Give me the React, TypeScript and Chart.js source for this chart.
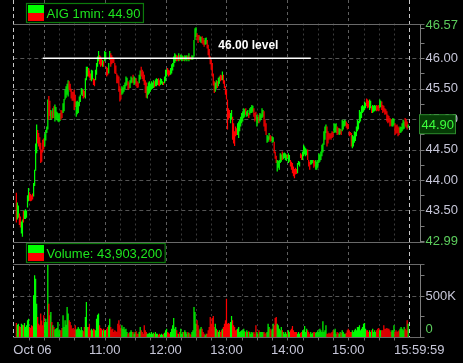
import React, { useEffect, useRef } from "react";
import { Chart, registerables } from "chart.js";

Chart.register(...registerables);

// ---------------- data ----------------
const SYMBOL_LABEL = "AIG 1min";
const LAST_PRICE = 44.9;
const TOTAL_VOLUME = 43903200;
const SESSION_MINUTES = 390; // 09:30 -> 16:00
const FIRST_BAR_MINUTE = 3;

// one bar per minute, starting at FIRST_BAR_MINUTE
const lows: number[] = [
  43.30, 43.35, 43.38, 43.26, 43.22, 43.12, 43.07,
  43.30, 43.36, 43.36, 43.38, 43.55, 43.65, 43.66, 43.65, 43.66, 43.68,
  43.73, 43.90, 44.15, 44.44, 44.60, 44.55, 44.50, 44.28, 44.30, 44.45,
  44.50, 44.55, 44.65, 44.77, 44.83, 44.99, 45.05, 44.99, 45.00, 45.02,
  45.02, 44.96, 45.00, 44.98, 44.96, 44.95, 44.97, 44.99, 45.02, 45.10,
  45.13, 45.32, 45.35, 45.40, 45.37, 45.48, 45.45, 45.34, 45.30, 45.30,
  45.15, 45.20, 45.04, 45.08, 45.10, 45.21, 45.28, 45.40, 45.38, 45.34,
  45.36, 45.34, 45.64, 45.70, 45.70, 45.68, 45.64, 45.62, 45.65, 45.56,
  45.54, 45.64, 45.73, 45.86, 45.95, 45.90, 45.86, 45.88, 45.86, 45.86,
  45.95, 45.97, 45.70, 45.72, 45.75, 45.97, 45.86, 45.90, 45.92, 45.92,
  45.75, 45.74, 45.59, 45.59, 45.45, 45.29, 45.32, 45.40, 45.42, 45.45,
  45.48, 45.54, 45.56, 45.48, 45.50, 45.51, 45.59, 45.60, 45.59, 45.56,
  45.58, 45.54, 45.51, 45.52, 45.59, 45.65, 45.70, 45.66, 45.62, 45.56,
  45.43, 45.35, 45.34, 45.40, 45.42, 45.45, 45.48, 45.50, 45.51, 45.52,
  45.54, 45.54, 45.56, 45.55, 45.54, 45.56, 45.58, 45.56, 45.56, 45.59,
  45.62, 45.70, 45.73, 45.70, 45.72, 45.73, 45.75, 45.80, 45.86, 45.92,
  45.95, 45.95, 45.96, 45.95, 45.96, 45.97, 45.95, 45.96, 45.96, 45.95,
  45.97, 45.95, 45.97, 45.95, 45.97, 45.98, 45.97, 45.98, 46.03, 46.30,
  46.35, 46.30, 46.25, 46.30, 46.27, 46.25, 46.24, 46.22, 46.19, 46.22,
  46.23, 46.16, 46.05, 46.00, 45.90, 45.81, 45.70, 45.55, 45.43, 45.45,
  45.50, 45.51, 45.54, 45.58, 45.62, 45.64, 45.64, 45.58, 45.51, 45.40,
  45.32, 44.83, 44.99, 45.02, 44.93, 45.00, 44.66, 44.60, 44.56, 44.72,
  44.74, 44.74, 44.69, 44.80, 44.88, 44.93, 44.96, 45.02, 45.04, 45.07,
  45.04, 45.05, 45.02, 45.07, 45.10, 45.10, 45.12, 45.04, 44.96, 44.99,
  44.88, 44.93, 44.93, 44.96, 44.99, 45.02, 45.04, 44.88, 44.80, 44.74,
  44.61, 44.63, 44.66, 44.63, 44.64, 44.61, 44.62, 44.44, 44.35, 44.28,
  44.14, 44.20, 44.17, 44.28, 44.30, 44.33, 44.34, 44.36, 44.33, 44.31,
  44.36, 44.28, 44.30, 44.22, 44.17, 44.11, 44.06, 44.03, 44.09, 44.10,
  44.11, 44.25, 44.22, 44.36, 44.33, 44.33, 44.39, 44.42, 44.39, 44.41,
  44.33, 44.22, 44.17, 44.25, 44.26, 44.28, 44.20, 44.22, 44.17, 44.17,
  44.20, 44.28, 44.30, 44.33, 44.39, 44.45, 44.58, 44.66, 44.77, 44.55,
  44.60, 44.66, 44.68, 44.66, 44.69, 44.70, 44.77, 44.79, 44.77, 44.74,
  44.75, 44.74, 44.75, 44.74, 44.80, 44.83, 44.88, 44.89, 44.86, 44.83,
  44.84, 44.72, 44.74, 44.55, 44.52, 44.55, 44.61, 44.64, 44.72, 44.80,
  44.83, 44.93, 44.96, 45.02, 45.10, 45.12, 45.15, 45.18, 45.21, 45.18,
  45.19, 45.15, 45.18, 45.10, 45.10, 45.12, 45.13, 45.14, 45.13, 45.14,
  45.13, 45.18, 45.20, 45.15, 45.10, 45.12, 45.07, 45.08, 44.96, 44.93,
  44.95, 44.88, 44.89, 44.88, 44.88, 44.90, 44.74, 44.76, 44.77, 44.72,
  44.74, 44.77, 44.78, 44.80, 44.83, 44.84, 44.88, 44.86, 44.83, 44.86,
];

const highs: number[] = [
  43.79, 43.63, 43.58, 43.45, 43.40, 43.32, 43.35,
  43.49, 43.50, 43.52, 43.50, 43.75, 43.87, 43.80, 43.77, 43.75, 43.78,
  43.95, 44.17, 44.60, 44.91, 44.82, 44.77, 44.70, 44.61, 44.50, 44.66,
  44.68, 44.75, 44.82, 44.88, 45.32, 45.38, 45.30, 45.15, 45.13, 45.18,
  45.21, 45.24, 45.20, 45.12, 45.10, 45.08, 45.10, 45.15, 45.14, 45.26,
  45.33, 45.48, 45.54, 45.58, 45.64, 45.62, 45.58, 45.50, 45.45, 45.45,
  45.48, 45.40, 45.29, 45.30, 45.28, 45.37, 45.40, 45.51, 45.50, 45.48,
  45.46, 45.67, 45.86, 45.86, 45.84, 45.80, 45.75, 45.81, 45.80, 45.67,
  45.66, 45.81, 45.92, 46.03, 46.12, 46.05, 46.03, 46.00, 45.97, 45.95,
  46.12, 46.10, 45.86, 45.84, 45.92, 46.12, 46.08, 46.05, 46.02, 46.00,
  45.92, 45.88, 45.75, 45.72, 45.70, 45.54, 45.50, 45.54, 45.52, 45.56,
  45.60, 45.70, 45.68, 45.62, 45.60, 45.64, 45.70, 45.68, 45.73, 45.70,
  45.68, 45.67, 45.62, 45.60, 45.73, 45.80, 45.86, 45.81, 45.78, 45.73,
  45.64, 45.60, 45.54, 45.60, 45.62, 45.58, 45.62, 45.60, 45.64, 45.62,
  45.65, 45.67, 45.66, 45.67, 45.64, 45.67, 45.66, 45.62, 45.61, 45.70,
  45.81, 45.82, 45.84, 45.81, 45.80, 45.84, 45.90, 45.92, 46.03, 46.08,
  46.06, 46.05, 46.04, 46.08, 46.05, 46.06, 46.05, 46.04, 46.03, 46.05,
  46.04, 46.05, 46.04, 46.08, 46.03, 46.02, 46.05, 46.04, 46.30, 46.49,
  46.51, 46.41, 46.38, 46.38, 46.36, 46.35, 46.36, 46.33, 46.30, 46.33,
  46.34, 46.30, 46.22, 46.15, 46.03, 45.97, 45.92, 45.75, 45.62, 45.60,
  45.64, 45.62, 45.68, 45.70, 45.73, 45.72, 45.78, 45.73, 45.64, 45.54,
  45.48, 45.32, 45.18, 45.15, 45.10, 45.15, 45.04, 44.93, 44.80, 44.88,
  44.85, 44.93, 44.96, 44.99, 45.04, 45.10, 45.13, 45.18, 45.16, 45.18,
  45.13, 45.15, 45.10, 45.18, 45.20, 45.23, 45.22, 45.18, 45.10, 45.12,
  45.07, 45.04, 45.07, 45.10, 45.08, 45.18, 45.15, 45.13, 44.99, 44.93,
  44.74, 44.72, 44.77, 44.74, 44.72, 44.72, 44.70, 44.63, 44.47, 44.40,
  44.33, 44.31, 44.33, 44.44, 44.42, 44.47, 44.44, 44.45, 44.44, 44.42,
  44.42, 44.44, 44.41, 44.33, 44.30, 44.28, 44.22, 44.18, 44.20, 44.18,
  44.28, 44.31, 44.30, 44.44, 44.42, 44.47, 44.58, 44.55, 44.52, 44.50,
  44.50, 44.33, 44.30, 44.33, 44.33, 44.33, 44.33, 44.31, 44.33, 44.30,
  44.33, 44.44, 44.42, 44.47, 44.58, 44.60, 44.80, 44.88, 44.91, 44.88,
  44.80, 44.77, 44.76, 44.77, 44.80, 44.79, 44.93, 44.92, 44.93, 44.88,
  44.86, 44.85, 44.84, 44.83, 44.99, 44.97, 44.99, 44.98, 44.96, 44.93,
  44.92, 44.80, 44.79, 44.77, 44.74, 44.72, 44.80, 44.79, 44.88, 44.99,
  44.97, 45.15, 45.12, 45.21, 45.23, 45.21, 45.29, 45.27, 45.34, 45.32,
  45.30, 45.32, 45.30, 45.21, 45.23, 45.22, 45.23, 45.22, 45.23, 45.22,
  45.23, 45.32, 45.30, 45.29, 45.23, 45.22, 45.18, 45.16, 45.13, 45.07,
  45.05, 45.02, 45.00, 44.99, 45.02, 45.00, 44.93, 44.90, 44.91, 44.88,
  44.86, 44.88, 44.87, 44.93, 44.99, 44.96, 45.02, 45.00, 44.96, 44.91,
];

// u = closed up (green), d = closed down (red)
const directions: string = [
  "duudduu",
  "duuuuudddd", "uuuudddddd", "duuuuddudu", "duuuuuuddu", "uuuuuddddd",
  "dduuuuuuud", "duuuddduud", "duuuudddud", "uudduudddd", "ddddddduuu",
  "uuudduuudu", "uddduudddd", "dduuuuuuud", "uuudduuudu", "uuddduuuuu",
  "udduduuudu", "uududduuuu", "uddduudddu", "uddddddddu", "uduudduddd",
  "dddduudddd", "duuuuuuuud", "uuduuuuddd", "uuduuuuddd", "uuudduuddd",
  "uuuuuduuuu", "duuddddddd", "uuudduuuuu", "ddduuudduu", "uuuuuuuuud",
  "dddddduuud", "duuduuuudd", "dddduuuuuu", "uuuuuuuudd", "duuduuuudd",
  "duuddddddd", "ddduuudddd", "duuuuudddu",
].join("");

// volume per minute, thousands of shares
const volumesK: number[] = [
  171, 150, 163, 130, 122, 163, 150,
  142, 171, 122, 142, 203, 224, 122, 110, 142, 130,
  508, 752, 711, 406, 244, 163, 142, 285, 200, 142,
  264, 183, 224, 183, 890, 406, 264, 305, 183, 142,
  122, 90, 102, 110, 183, 81, 81, 81, 110, 264,
  122, 203, 150, 366, 285, 203, 183, 142, 102, 110,
  81, 142, 90, 102, 122, 102, 81, 122, 81, 70,
  122, 244, 427, 122, 122, 163, 81, 102, 81, 102,
  90, 81, 224, 272, 285, 142, 110, 102, 81, 102,
  81, 81, 102, 122, 142, 224, 122, 90, 102, 61,
  81, 70, 61, 163, 203, 142, 110, 142, 102, 122,
  90, 102, 61, 41, 53, 61, 81, 61, 61, 41,
  61, 69, 41, 41, 61, 122, 81, 61, 41, 142,
  81, 61, 41, 41, 53, 41, 61, 41, 53, 41,
  61, 41, 41, 28, 41, 28, 41, 28, 41, 53,
  81, 102, 61, 53, 41, 61, 102, 142, 232, 102,
  122, 81, 41, 41, 61, 102, 41, 61, 61, 81,
  61, 41, 61, 53, 41, 28, 61, 81, 366, 305,
  163, 203, 142, 81, 102, 122, 102, 61, 41, 20,
  41, 41, 81, 122, 244, 163, 232, 256, 122, 163,
  102, 81, 61, 81, 61, 81, 102, 122, 163, 203,
  467, 163, 171, 163, 183, 256, 203, 142, 122, 81,
  90, 102, 122, 61, 70, 81, 81, 102, 70, 61,
  81, 61, 70, 61, 41, 61, 53, 61, 41, 142,
  61, 41, 81, 61, 61, 61, 61, 61, 41, 53,
  61, 163, 122, 102, 81, 102, 163, 142, 232, 244,
  163, 142, 102, 81, 122, 81, 61, 41, 61, 41,
  61, 81, 61, 81, 102, 134, 81, 61, 61, 61,
  41, 61, 41, 53, 61, 81, 81, 134, 61, 102,
  81, 61, 41, 61, 41, 53, 61, 61, 53, 61,
  81, 61, 102, 81, 61, 191, 61, 81, 142, 41,
  41, 53, 41, 53, 61, 81, 81, 102, 41, 61,
  53, 41, 61, 53, 81, 61, 41, 41, 53, 81,
  102, 81, 61, 61, 81, 61, 81, 102, 81, 122,
  122, 142, 81, 102, 122, 163, 171, 102, 81, 81,
  61, 81, 61, 81, 102, 61, 81, 61, 81, 102,
  110, 81, 81, 81, 81, 142, 102, 102, 110, 102,
  102, 81, 61, 81, 81, 142, 61, 81, 61, 70,
  81, 102, 122, 102, 81, 122, 102, 81, 203, 163,
];

const priceAxisMin = 42.99;
const priceAxisMax = 46.57;
const priceGridValues = [43.5, 44.0, 44.5, 45.0, 45.5, 46.0];
const priceLabelValues = [42.99, 43.5, 44.0, 44.5, 45.0, 45.5, 46.0, 46.57];
const priceLabelTexts = ["42.99", "43.50", "44.00", "44.50", "45.00", "45.50", "46.00", "46.57"];
const priceTickValues = [43.0, 43.25, 43.5, 43.75, 44.0, 44.25, 44.5, 44.75, 45.0, 45.25, 45.5, 45.75, 46.0, 46.25, 46.5];
const volumePanelMax = 890000;
const volumeLabelValues = [0, 500000];
const volumeLabelTexts = ["0", "500K"];
const timeTickMinutes = [0, 90, 150, 210, 270, 330, 390];
const timeTickLabels = ["Oct 06", "11:00", "12:00", "13:00", "14:00", "15:00", "15:59:59"];
const hourLineMinutes = [30, 90, 150, 210, 270, 330];
const levelPrice = 46.0;
const levelStartMinute = 29;
const levelEndMinute = 293;
const levelText = "46.00 level";
const levelTextMinute = 202;
const levelTextPrice = 46.21;

// ---------------- layout (pixels) ----------------
const W = 463;
const H = 363;
const PLOT_LEFT = 13.3;
const PLOT_RIGHT = 409.2;
const PRICE_TOP = 23.5;
const PRICE_BOTTOM = 241.5;
const VOL_TOP = 264;
const VOL_BOTTOM = 337;
const FONT = '"Liberation Sans", Arial, sans-serif';

const UP = "#00ff00";
const DOWN = "#ff0000";
const LABEL_GREY = "#c6c6d8";
const LABEL_GREEN = "#5ccc5c";

const crisp = (v: number) => Math.round(v) + 0.5;

function drawLegend(ctx: CanvasRenderingContext2D, x: number, y: number, text: string) {
  ctx.font = `13px ${FONT}`;
  const tw = ctx.measureText(text).width;
  const w = 20 + tw + 3;
  const h = 19;
  ctx.fillStyle = "#000";
  ctx.fillRect(x, y, w, h);
  ctx.fillStyle = UP;
  ctx.fillRect(x + 1.5, y + 1.5, 16, 8);
  ctx.fillStyle = DOWN;
  ctx.fillRect(x + 1.5, y + 9.5, 16, 8);
  ctx.strokeStyle = "#0c7a0c";
  ctx.lineWidth = 1.2;
  ctx.setLineDash([]);
  ctx.strokeRect(x, y, w, h);
  ctx.fillStyle = "#1ee61e";
  ctx.textAlign = "left";
  ctx.textBaseline = "middle";
  ctx.fillText(text, x + 20, y + h / 2 + 1);
}

const stockPanels = {
  id: "stockPanels",
  beforeDraw(chart: any) {
    const { ctx, width, height } = chart;
    ctx.save();
    ctx.fillStyle = "#000";
    ctx.fillRect(0, 0, width, height);
    ctx.restore();
  },
  beforeDatasetsDraw(chart: any) {
    const { ctx } = chart;
    const xs = chart.scales.x;
    const ys = chart.scales.y;
    const vs = chart.scales.yv;
    const pTop = ys.getPixelForValue(priceAxisMax);
    const pBot = ys.getPixelForValue(priceAxisMin);
    const vTop = vs.getPixelForValue(volumePanelMax);
    const vBot = vs.getPixelForValue(0);
    const left = xs.getPixelForValue(0);
    const right = xs.getPixelForValue(SESSION_MINUTES);
    const axisX = crisp(right + 11);
    ctx.save();
    ctx.lineWidth = 1;
    const line = (x0: number, y0: number, x1: number, y1: number, color: string, dash: number[]) => {
      ctx.strokeStyle = color;
      ctx.setLineDash(dash);
      ctx.beginPath();
      ctx.moveTo(x0, y0);
      ctx.lineTo(x1, y1);
      ctx.stroke();
    };
    for (const v of priceGridValues) {
      const y = crisp(ys.getPixelForValue(v));
      line(left, y, axisX, y, "#555555", [4, 3]);
    }
    {
      const y = crisp(vs.getPixelForValue(500000));
      line(left, y, axisX, y, "#555555", [4, 3]);
    }
    for (let m = 15; m < SESSION_MINUTES; m += 15) {
      const x = crisp(xs.getPixelForValue(m));
      if (hourLineMinutes.includes(m)) {
        line(x, 0, x, vBot, "#5e5e5e", [3, 3]);
      } else {
        line(x, pTop, x, pBot, "#3a3a3a", [2, 3]);
        line(x, vTop, x, vBot, "#3a3a3a", [2, 3]);
      }
    }
    for (const m of [0, SESSION_MINUTES]) {
      const x = crisp(xs.getPixelForValue(m));
      line(x, 0, x, vBot, "#c8c8c8", [4, 3]);
    }
    ctx.restore();
  },
  afterDatasetsDraw(chart: any) {
    const { ctx } = chart;
    const xs = chart.scales.x;
    const ys = chart.scales.y;
    const vs = chart.scales.yv;
    const pTop = crisp(ys.getPixelForValue(priceAxisMax));
    const pBot = crisp(ys.getPixelForValue(priceAxisMin));
    const vTop = crisp(vs.getPixelForValue(volumePanelMax));
    const vBot = crisp(vs.getPixelForValue(0));
    const left = xs.getPixelForValue(0);
    const right = xs.getPixelForValue(SESSION_MINUTES);
    const axisX = crisp(right + 11);
    ctx.save();
    ctx.lineWidth = 1;
    ctx.setLineDash([]);
    const line = (x0: number, y0: number, x1: number, y1: number, color: string) => {
      ctx.strokeStyle = color;
      ctx.beginPath();
      ctx.moveTo(x0, y0);
      ctx.lineTo(x1, y1);
      ctx.stroke();
    };
    for (const y of [pTop, pBot, vTop, vBot]) line(left, y, axisX + 4, y, "#6a6a6a");
    line(axisX, pTop, axisX, pBot, "#7c7c7c");
    line(axisX, vTop, axisX, vBot, "#7c7c7c");
    for (const v of priceTickValues) {
      const y = crisp(ys.getPixelForValue(v));
      line(axisX, y, axisX + 4, y, "#7c7c7c");
    }
    for (const v of [250000, 500000, 750000]) {
      const y = crisp(vs.getPixelForValue(v));
      line(axisX, y, axisX + 4, y, "#7c7c7c");
    }
    for (let m = 15; m < SESSION_MINUTES; m += 15) {
      const x = crisp(xs.getPixelForValue(m));
      line(x, vBot, x, vBot + 3, "#6a6a6a");
    }

    ctx.font = `13px ${FONT}`;
    ctx.textAlign = "left";
    ctx.textBaseline = "middle";
    priceLabelValues.forEach((v, i) => {
      const edge = i === 0 || i === priceLabelValues.length - 1;
      ctx.fillStyle = edge ? LABEL_GREEN : LABEL_GREY;
      const y = ys.getPixelForValue(v);
      ctx.fillText(priceLabelTexts[i], axisX + 5, i === priceLabelValues.length - 1 ? y + 2 : y);
    });
    volumeLabelValues.forEach((v, i) => {
      ctx.fillStyle = v === 0 ? LABEL_GREEN : LABEL_GREY;
      const y = Math.min(vs.getPixelForValue(v), vBot - 8);
      ctx.fillText(volumeLabelTexts[i], axisX + 5, y);
    });

    {
      const y = ys.getPixelForValue(LAST_PRICE) - 1;
      ctx.fillStyle = "#063c06";
      ctx.fillRect(axisX - 1, y - 9.5, 36, 19);
      ctx.strokeStyle = "#2d8a2d";
      ctx.strokeRect(axisX - 1, y - 9.5, 36, 19);
      ctx.fillStyle = "#3cff3c";
      ctx.fillText(LAST_PRICE.toFixed(2), axisX + 1, y + 1);
    }

    ctx.fillStyle = LABEL_GREY;
    ctx.textBaseline = "middle";
    timeTickMinutes.forEach((m, i) => {
      const x = xs.getPixelForValue(m);
      if (i === 0) {
        ctx.textAlign = "left";
        ctx.fillText(timeTickLabels[i], x, 350);
      } else if (i === timeTickMinutes.length - 1) {
        ctx.textAlign = "center";
        ctx.fillText(timeTickLabels[i], x + 10, 350);
      } else {
        ctx.textAlign = "center";
        ctx.fillText(timeTickLabels[i], x, 350);
      }
    });

    ctx.font = `bold 12px ${FONT}`;
    ctx.textAlign = "left";
    ctx.fillStyle = "#ffffff";
    ctx.fillText(levelText, xs.getPixelForValue(levelTextMinute), ys.getPixelForValue(levelTextPrice));

    drawLegend(ctx, 26.5, 3.5, `${SYMBOL_LABEL}: ${LAST_PRICE.toFixed(2)}`);
    drawLegend(ctx, 26.5, 243.5, `Volume: ${TOTAL_VOLUME.toLocaleString("en-US")}`);
    ctx.restore();
  },
};

export default function App() {
  const canvasRef = useRef<HTMLCanvasElement>(null);

  useEffect(() => {
    document.body.style.margin = "0";
    document.body.style.background = "#000";
    const canvas = canvasRef.current;
    if (!canvas) return;

    const colors = lows.map((_, i) => (directions[i] === "d" ? DOWN : UP));
    const priceData = lows.map((lo, i) => ({ x: FIRST_BAR_MINUTE + i, y: [lo, highs[i]] }));
    const volumeData = volumesK.map((v, i) => ({ x: FIRST_BAR_MINUTE + i, y: v * 1000 }));

    const fullHeight = VOL_BOTTOM - PRICE_TOP;
    const yMin = priceAxisMax - ((priceAxisMax - priceAxisMin) * fullHeight) / (PRICE_BOTTOM - PRICE_TOP);
    const yvMax = (volumePanelMax * fullHeight) / (VOL_BOTTOM - VOL_TOP);

    const chart = new Chart(canvas, {
      type: "bar",
      data: {
        datasets: [
          {
            type: "line",
            data: [
              { x: levelStartMinute, y: levelPrice },
              { x: levelEndMinute, y: levelPrice },
            ],
            borderColor: "#ffffff",
            borderWidth: 1.5,
            pointRadius: 0,
            yAxisID: "y",
            order: 0,
          } as any,
          {
            data: priceData as any,
            backgroundColor: colors,
            borderWidth: 0,
            barPercentage: 1.2,
            categoryPercentage: 1,
            grouped: false,
            minBarLength: 1,
            yAxisID: "y",
            order: 1,
          },
          {
            data: volumeData as any,
            backgroundColor: colors,
            borderWidth: 0,
            barPercentage: 1.2,
            categoryPercentage: 1,
            grouped: false,
            minBarLength: 1,
            yAxisID: "yv",
            order: 2,
          },
        ],
      },
      options: {
        responsive: false,
        devicePixelRatio: 1,
        animation: false,
        events: [],
        layout: {
          padding: {
            left: PLOT_LEFT,
            right: W - PLOT_RIGHT,
            top: PRICE_TOP,
            bottom: H - VOL_BOTTOM,
          },
        },
        plugins: {
          legend: { display: false },
          tooltip: { enabled: false },
        },
        scales: {
          x: { type: "linear", min: 0, max: SESSION_MINUTES, offset: false, display: false },
          y: { type: "linear", min: yMin, max: priceAxisMax, display: false },
          yv: { type: "linear", min: 0, max: yvMax, display: false },
        },
      },
      plugins: [stockPanels],
    });

    return () => chart.destroy();
  }, []);

  return (
    <div style={{ width: W, height: H, background: "#000" }}>
      <canvas ref={canvasRef} width={W} height={H} style={{ display: "block" }} />
    </div>
  );
}
